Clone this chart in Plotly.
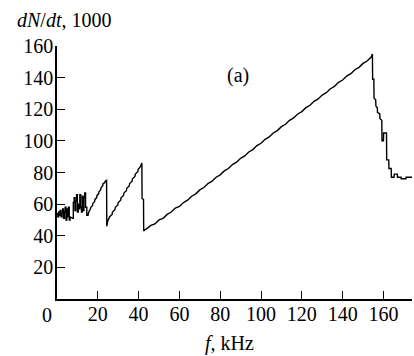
import plotly.graph_objects as go

# Early noisy region
f_early = [0, 0.4, 0.4, 0.8, 0.8, 1.2, 1.2, 1.6, 1.6, 2.0, 2.0, 2.4, 2.4, 2.8, 2.8, 3.2, 3.2,
           3.6, 3.6, 4.0, 4.0, 4.4, 4.4, 4.8, 4.8, 5.2, 5.2, 5.6, 5.6, 6.0, 6.0, 6.4, 6.4,
           7.2, 7.6, 8.0, 8.0, 8.4, 8.4, 8.8, 8.8, 9.2, 9.2, 9.6, 9.6, 10.0, 10.0, 10.4,
           10.4, 10.8, 10.8, 11.2, 11.2, 11.6, 11.6, 12.0, 12.0, 12.4, 12.4, 12.8, 12.8,
           13.2, 13.2, 13.6, 13.6, 14.0, 14.0, 14.6, 14.6, 15.2]
v_early = [54, 54, 52, 52, 55, 55, 53, 53, 56, 56, 52, 52, 54, 54, 57, 57, 51,
           51, 55, 55, 58, 58, 50, 50, 57, 57, 52, 52, 58, 58, 50, 50, 52,
           51, 51, 51, 61, 61, 64, 64, 56, 56, 62, 62, 66, 66, 55, 55,
           60, 60, 57, 57, 66, 66, 58, 58, 55, 55, 65, 65, 56,
           56, 64, 64, 67, 67, 58, 58, 53, 53]

# First ramp (stair-like) and drop
f_ramp1 = [15.6, 16.4, 16.6, 17.4, 17.6, 18.4, 18.6, 19.4, 19.6, 20.4, 20.6, 21.4, 21.6,
           22.4, 22.6, 23.4, 23.6, 24.3, 24.4]
v_ramp1 = [55, 57, 58, 59, 60.5, 61.5, 63, 64, 65.5, 66.5, 68, 69, 70.5,
           71.5, 73, 73.5, 74.5, 75, 46]

# Second ramp and double drop
f_ramp2 = [24.8, 25.6, 25.8, 27.0, 27.2, 28.4, 28.6, 29.8, 30.0, 31.2, 31.4, 32.6, 32.8,
           34.0, 34.2, 35.4, 35.6, 36.8, 37.0, 38.2, 38.4, 39.6, 39.8, 40.8, 41.0, 41.6,
           41.7, 42.4, 42.5]
v_ramp2 = [49, 51, 52, 53.5, 55, 56.5, 58, 59.5, 61, 62.5, 64, 65.5, 67,
           68.5, 70, 71.5, 73, 74.5, 76, 77.5, 79, 80.5, 82, 83.5, 84.5, 86,
           63.5, 63, 43]

# Long linear rise
f_lin = [42.8, 44, 46, 48, 50, 52, 54, 56, 58, 60, 62, 64, 66, 68, 70, 72, 74, 76, 78, 80,
         82, 84, 86, 88, 90, 92, 94, 96, 98, 100, 102, 104, 106, 108, 110, 112, 114, 116,
         118, 120, 122, 124, 126, 128, 130, 132, 134, 136, 138, 140, 142, 144, 146, 148,
         150, 152, 154, 154.6]
v_lin = [43.5, 44.5, 46.5, 47.5, 50, 51, 53.5, 55, 57.5, 58.5, 61, 62.5, 65, 66.5, 69, 70.5,
         73, 74.5, 77, 78.5, 81, 82.5, 85, 86.5, 89, 90.5, 93, 94.5, 97, 98.5, 101, 102.5,
         105, 106.5, 109, 110.5, 113, 114.5, 117, 118.5, 121, 122.5, 125, 126.5, 129, 130.5,
         133, 134.5, 137, 138.5, 141, 142.5, 145, 146.5, 149, 150.5, 153, 155]

# Final stair-like drop and plateau
f_drop = [154.7, 155.3, 155.4, 156.2, 156.3, 157.0, 157.1, 158.2, 158.3, 159.2, 159.3,
          160.0, 160.1, 161.5, 161.6, 162.6, 162.7, 163.8, 163.9, 165.2, 165.3, 166.8,
          166.9, 168.6, 168.7, 171.0, 171.1, 174.0]
v_drop = [139, 139, 127, 126, 122, 121, 118, 117, 114, 113, 100, 100, 105, 105, 88, 88,
          82.5, 82.5, 77, 77, 79, 79, 77, 77, 76, 76, 77, 77]

f_all = f_early + f_ramp1 + f_ramp2 + f_lin + f_drop
v_all = v_early + v_ramp1 + v_ramp2 + v_lin + v_drop

y_ticks = [20, 40, 60, 80, 100, 120, 140, 160]
x_ticks = [20, 40, 60, 80, 100, 120, 140, 160]

FONT = "Liberation Serif, Times New Roman, serif"

fig = go.Figure()
fig.add_trace(go.Scatter(x=f_all, y=v_all, mode="lines", line=dict(color="black", width=1.4),
                         showlegend=False, hoverinfo="skip"))

fig.update_layout(
    width=414, height=356,
    margin=dict(l=57, r=2, t=46, b=57, autoexpand=False),
    paper_bgcolor="white", plot_bgcolor="white",
    font=dict(family=FONT, size=20, color="black"),
    xaxis=dict(range=[0, 174], tickvals=x_ticks, ticktext=[str(t) for t in x_ticks],
               ticks="inside", ticklen=8, tickwidth=1.3, tickcolor="black", automargin=False,
               ticklabelstandoff=-4,
               showline=True, linecolor="black", linewidth=1.5, showgrid=False, zeroline=False,
               tickfont=dict(family=FONT, size=20, color="black")),
    yaxis=dict(range=[0, 160], tickvals=y_ticks, ticktext=[str(t) for t in y_ticks],
               ticks="inside", ticklen=8, tickwidth=1.3, tickcolor="black", automargin=False,
               ticklabelstandoff=-2,
               showline=True, linecolor="black", linewidth=1.5, showgrid=False, zeroline=False,
               tickfont=dict(family=FONT, size=20, color="black")),
    annotations=[
        dict(text="<i>dN</i>/<i>dt</i>, 1000", xref="paper", yref="paper",
             x=-42/355, y=1 + 26/253, xanchor="left", yanchor="middle", showarrow=False,
             font=dict(family=FONT, size=20, color="black")),
        dict(text="(a)", xref="paper", yref="paper", x=(238-57)/355, y=(298.5-75)/253.0,
             xanchor="center", yanchor="middle", showarrow=False,
             font=dict(family=FONT, size=20, color="black")),
        dict(text="<i>f</i>, kHz", xref="paper", yref="paper", x=(229-57)/355, y=-(343-298.5)/253.0,
             xanchor="center", yanchor="middle", showarrow=False,
             font=dict(family=FONT, size=20, color="black")),
        dict(text="0", xref="paper", yref="paper", x=(46.7-57)/355, y=-(314-298.5)/253.0,
             xanchor="center", yanchor="middle", showarrow=False,
             font=dict(family=FONT, size=20, color="black")),
    ],
)

fig.write_html("out.html", config={"displayModeBar": False})

# remove default page margin so the figure sits at the window's top-left corner
with open("out.html", "r", encoding="utf-8") as fh:
    html = fh.read()
html = html.replace("<body>", '<body style="margin:0;padding:0;">', 1)
with open("out.html", "w", encoding="utf-8") as fh:
    fh.write(html)
